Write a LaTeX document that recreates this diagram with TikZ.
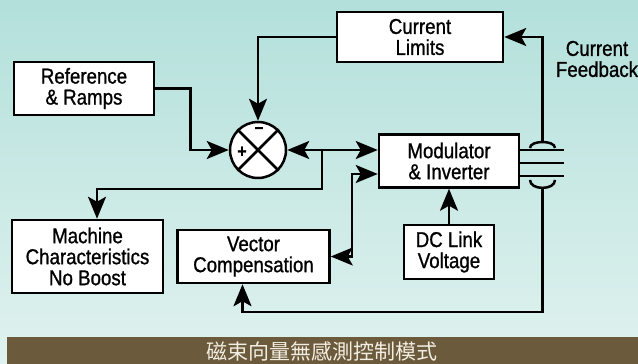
\documentclass[tikz,border=0pt]{standalone}
\usepackage{fontspec}
\setmainfont{Liberation Sans}[FakeStretch=0.87,FakeBold=1]
\newfontfamily\cjk{Noto Sans CJK TC}
\usepackage{tikz}
\usetikzlibrary{positioning,arrows.meta}
\definecolor{bgTop}{HTML}{B3E0DB}
\definecolor{bgBottom}{HTML}{E0F2EF}
\definecolor{barBrown}{HTML}{6B5A3C}
\definecolor{barText}{HTML}{F3EEE2}
\tikzset{
  blk/.style={draw, fill=white, line width=2.5pt, inner sep=0pt, align=center},
  wire/.style={line width=2.5pt},
  sign/.style={font=\bfseries\fontsize{18}{18}\selectfont, inner sep=0pt},
  >={Stealth[length=22pt,width=18pt,inset=5pt]}
}

\begin{document}
\begin{tikzpicture}[x=1pt,y=1pt,font=\fontsize{21.5}{21}\selectfont]
\useasboundingbox (0,0) rectangle (638,364);
%% background and title bar
\shade[top color=bgTop,bottom color=bgBottom] (0,0) rectangle (638,364);
\fill[barBrown] (7,0) rectangle (638,27);
\node[text=barText,font=\cjk\fontsize{21}{21}\selectfont] (title) at (322,13) {磁束向量無感測控制模式};
%the nodes
\node [blk,minimum width=166,minimum height=50] (limits) at (420,327) {Current\\Limits};
\node [blk,minimum width=140,minimum height=53] (ref) at (84,275.5) {Reference\\\& Ramps};
\node [blk,circle,minimum size=56] (sum) at (258,214) {};
\node [blk,minimum width=140,minimum height=53] (mod) at (449,203) {Modulator\\\& Inverter};
\node [blk,minimum width=90,minimum height=54,below=35pt of mod] (dclink) {DC Link\\Voltage};
\node [blk,minimum width=151,minimum height=73] (machine) at (87.5,107.5) {Machine\\Characteristics\\No Boost};
\node [blk,minimum width=152,minimum height=53,right=12pt of machine] (vector) {Vector\\Compensation};
\node [align=center] (feedback) at (597,305) {Current\\Feedback};
\node [sign] (sumMinus) at (259,234) {–};
\node [sign] (sumPlus) at (242,212) {+};
\coordinate (split) at (322,214);
\coordinate (vecin) at (352,190);
\coordinate (fbtop) at (542.5,222);
\coordinate (fbbot) at (542.5,176);
%drawings of lines
\draw[wire] (sum.north west) -- (sum.south east);
\draw[wire] (sum.north east) -- (sum.south west);

\draw[wire,->] (ref.east) -- ++(35,0) |- (sum.west);
\draw[wire,->] (limits.west) -| (sum.north);

\draw[wire,<->] (sum.east) -- (sum.east -| mod.west);
\draw[wire,->] (split) -- ++(0,-39) -| ([xshift=9.5]machine.north);

\draw[wire,<->] (vector.east) -| (vecin) -- (vecin -| mod.west);
\draw[wire,->] (dclink.north) -- (mod.south);

\foreach \dy in {11,-2,-15}
  \draw[wire] ([yshift=\dy]mod.east) -- ++(44,0);

\draw[wire] (530,216) .. controls (530,224) and (555,224) .. (555,216);
\draw[wire] (530,184) .. controls (530,173.5) and (555,173.5) .. (555,184);
\draw[wire,->] (fbtop) |- (limits.east);
\draw[wire,->] (fbbot) -- ++(0,-124) -| ([xshift=-11]vector.south);

\end{tikzpicture}
\end{document}
